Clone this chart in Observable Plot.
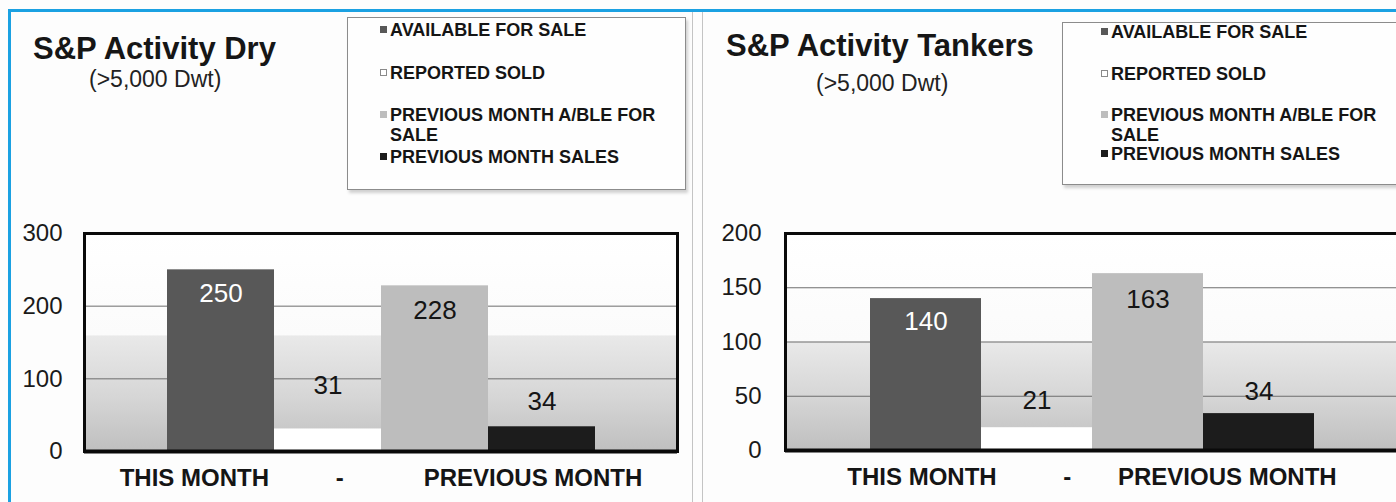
<!DOCTYPE html>
<html>
<head>
<meta charset="utf-8">
<script src="https://cdn.jsdelivr.net/npm/d3@7"></script>
<script src="https://cdn.jsdelivr.net/npm/@observablehq/plot@0.6"></script>
<style>
  html, body { margin: 0; padding: 0; }
  body { width: 1396px; height: 502px; overflow: hidden; background: #fdfdfd; position: relative;
         font-family: "Liberation Sans", Arial, sans-serif; color: #161616; }
  .abs { position: absolute; }
  .title { font-size: 31px; font-weight: bold; line-height: 1; white-space: nowrap; }
  .subtitle { font-size: 23px; line-height: 1; white-space: nowrap; color: #222; }
  .legend { border: 1px solid #8c8c8c; box-shadow: 2px 3px 3px rgba(0,0,0,0.18); background: #fefefe; }
  .litem { position: absolute; font-size: 18px; font-weight: bold; line-height: 20px; white-space: nowrap; color: #151515; }
  .lmark { position: absolute; width: 7px; height: 7px; box-sizing: border-box; }
  .frame-blue { border-top: 3px solid #1ba1e2; border-left: 3px solid #1ba1e2; }
  .divider { width: 1px; background: #c4c4c4; }
</style>
</head>
<body>
<div id="root"></div>
<script>
// ---------- data ----------
const series = ["AVAILABLE FOR SALE", "REPORTED SOLD", "PREVIOUS MONTH A/BLE FOR SALE", "PREVIOUS MONTH SALES"];
const legendLines = [["AVAILABLE FOR SALE"], ["REPORTED SOLD"], ["PREVIOUS MONTH A/BLE FOR", "SALE"], ["PREVIOUS MONTH SALES"]];
const seriesColors = ["#585858", "#ffffff", "#bdbdbd", "#1c1c1c"];
const labelColors = ["#ffffff", "#151515", "#151515", "#151515"];

const dryTitle = "S&P Activity Dry";
const tankerTitle = "S&P Activity Tankers";
const subtitle = "(>5,000 Dwt)";

const dryCategory = "THIS MONTH" + "\u00a0".repeat(10) + "-" + "\u00a0".repeat(12) + "PREVIOUS MONTH";
const tankerCategory = "THIS MONTH" + "\u00a0".repeat(10) + "-" + "\u00a0".repeat(7) + "PREVIOUS MONTH";

const dryValues = [250, 31, 228, 34];
const tankerValues = [140, 21, 163, 34];

const dryTicks = [0, 100, 200, 300];
const tankerTicks = [0, 50, 100, 150, 200];

// ---------- helpers ----------
const root = document.getElementById("root");
function addDiv(cls, css, html) {
  const d = document.createElement("div");
  d.className = "abs " + (cls || "");
  Object.assign(d.style, css);
  if (html != null) d.textContent = html;
  document.body.appendChild(d);
  return d;
}

function panelChart(cfg) {
  const data = series.map((s, i) => ({series: s, value: cfg.values[i], cat: cfg.category, i}));
  const yMax = cfg.ticks[cfg.ticks.length - 1];
  const textMarks = series.map((s, i) =>
    Plot.text(data.filter(d => d.i === i), {
      fx: "cat", x: "series", y: "value", text: d => String(d.value),
      dy: cfg.labelDy[i], fill: labelColors[i], fontSize: 26,
      fontFamily: "Liberation Sans, Arial, sans-serif"
    })
  );
  const svg = Plot.plot({
    width: cfg.width, height: cfg.height,
    marginLeft: cfg.marginLeft, marginRight: cfg.marginRight,
    marginTop: cfg.marginTop, marginBottom: cfg.marginBottom,
    style: {background: "transparent", fontFamily: "Liberation Sans, Arial, sans-serif", overflow: "visible"},
    fx: {domain: [cfg.category], padding: 0, label: null},
    x: {domain: series, paddingInner: 0, paddingOuter: 0.75, axis: null},
    y: {domain: [0, yMax], label: null},
    color: {domain: series, range: seriesColors},
    marks: [
      Plot.frame({fill: `url(#${cfg.gradId})`, stroke: null}),
      Plot.gridY(cfg.ticks.filter(t => t > 0 && t < yMax), {stroke: "#6e6e6e", strokeOpacity: 1, strokeWidth: 1}),
      Plot.barY(data, {fx: "cat", x: "series", y: "value", fill: "series"}),
      ...textMarks,
      Plot.frame({stroke: "#0a0a0a", strokeWidth: 3}),
      Plot.ruleY([0], {stroke: "#0a0a0a", strokeWidth: 4}),
      Plot.axisY(cfg.ticks, {tickSize: 0, tickPadding: cfg.yTickPadding, fontSize: 24, fill: "#1a1a1a", label: null}),
      Plot.axisFx({anchor: "bottom", tickSize: 0, tickPadding: 17, fontSize: 24, fontWeight: "bold", fill: "#151515", label: null})
    ]
  });
  const defs = document.createElementNS("http://www.w3.org/2000/svg", "defs");
  defs.innerHTML = `<linearGradient id="${cfg.gradId}" x1="0" y1="0" x2="0" y2="1">
      <stop offset="0" stop-color="#ffffff"/>
      <stop offset="${cfg.gradStep - 0.005}" stop-color="#fbfbfb"/>
      <stop offset="${cfg.gradStep}" stop-color="#e9e9e9"/>
      <stop offset="0.75" stop-color="#d6d6d6"/>
      <stop offset="1" stop-color="#bfbfbf"/>
    </linearGradient>`;
  svg.insertBefore(defs, svg.firstChild);
  svg.style.position = "absolute";
  svg.style.left = cfg.left + "px";
  svg.style.top = cfg.top + "px";
  document.body.appendChild(svg);
}

function legend(box, markX, textX, tops) {
  addDiv("legend", {left: box.left + "px", top: box.top + "px", width: box.width + "px", height: box.height + "px"});
  series.forEach((s, i) => {
    const m = addDiv("lmark", {left: markX + "px", top: (tops[i] + 6) + "px", background: seriesColors[i],
      border: i === 1 ? "1px solid #8a8a8a" : "none"});
    const t = addDiv("litem", {left: textX + "px", top: tops[i] + "px"});
    t.innerHTML = legendLines[i].join("<br>");
  });
}

// ---------- frame decorations ----------
addDiv("frame-blue", {left: "8px", top: "9px", width: "1400px", height: "500px"});
addDiv("divider", {left: "692px", top: "12px", height: "490px"});
addDiv("divider", {left: "702px", top: "12px", height: "490px"});

// ---------- left panel (Dry) ----------
addDiv("title", {left: "33px", top: "33px"}, dryTitle);
addDiv("subtitle", {left: "89px", top: "68px"}, subtitle);
legend({left: 347, top: 17, width: 337, height: 171}, 380, 390, [20, 63, 105, 147]);
panelChart({
  values: dryValues, ticks: dryTicks, category: dryCategory, gradId: "gDry", gradStep: 0.47,
  left: 0, top: 200, width: 696, height: 302,
  marginLeft: 84, marginRight: 19, marginTop: 33, marginBottom: 51,
  yTickPadding: 22, labelDy: [24, -43, 25, -25]
});

// ---------- right panel (Tankers) ----------
addDiv("title", {left: "726px", top: "30px"}, tankerTitle);
addDiv("subtitle", {left: "816px", top: "72px"}, subtitle);
legend({left: 1062, top: 22, width: 400, height: 161}, 1101, 1111, [22, 64, 105, 144]);
panelChart({
  values: tankerValues, ticks: tankerTicks, category: tankerCategory, gradId: "gTank", gradStep: 0.5,
  left: 697, top: 200, width: 720, height: 302,
  marginLeft: 88, marginRight: 19, marginTop: 33, marginBottom: 52,
  yTickPadding: 24, labelDy: [23, -27, 26, -22]
});
</script>
</body>
</html>
